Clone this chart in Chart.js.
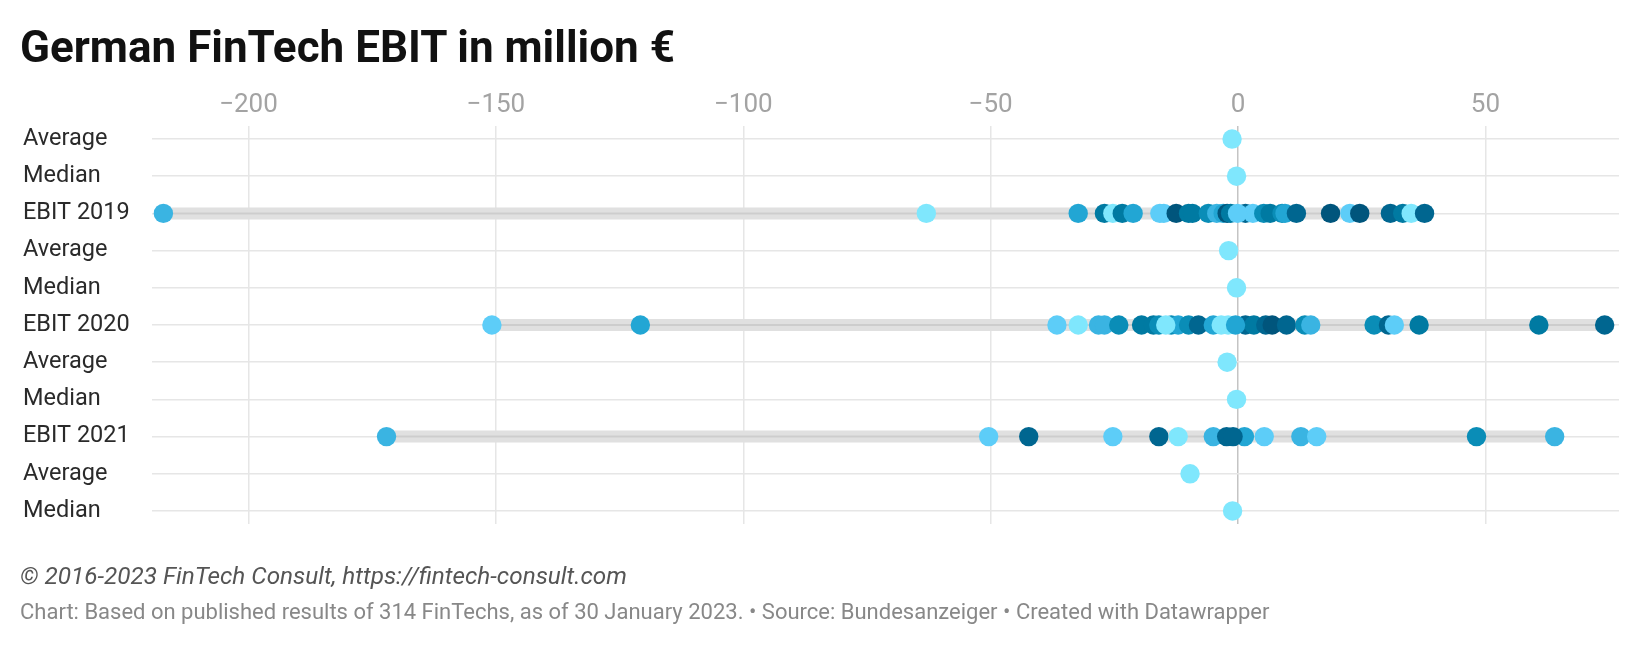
<!DOCTYPE html>
<html>
<head>
<meta charset="utf-8">
<script src="https://cdn.jsdelivr.net/npm/chart.js@4/dist/chart.umd.min.js"></script>
<style>
  body { margin: 0; background: #fff; font-family: Roboto, sans-serif; }
  #wrap { position: relative; width: 1640px; height: 648px; overflow: hidden; }
  #chart { position: absolute; left: 0; top: 0; }
  .txt { position: absolute; left: 20px; white-space: nowrap; }
  #title { top: 23px; font-size: 44px; line-height: 48px; font-weight: 700; color: #111; }
  #copy { top: 562px; font-size: 24.3px; line-height: 28px; font-style: italic; color: #555; }
  #notes { top: 598px; font-size: 22px; line-height: 28px; color: #888; }
</style>
</head>
<body>
<div id="wrap">
  <canvas id="chart" width="1640" height="648"></canvas>
  <div class="txt" id="title">German FinTech EBIT in million €</div>
  <div class="txt" id="copy">© 2016-2023 FinTech Consult, https://fintech-consult.com</div>
  <div class="txt" id="notes">Chart: Based on published results of 314 FinTechs, as of 30 January 2023. • Source: Bundesanzeiger • Created with Datawrapper</div>
</div>
<script>
// rows top to bottom
const rowLabels = ["Average", "Median", "EBIT 2019", "Average", "Median", "EBIT 2020", "Average", "Median", "EBIT 2021", "Average", "Median"];
const xTicks = [-200, -150, -100, -50, 0, 50];

// average / median rows (row index -> value)
const statRows = [0, 1, 3, 4, 6, 7, 9, 10];
const statValues = [-1.2, -0.3, -1.9, -0.3, -2.2, -0.3, -9.7, -1.1];

// single FinTech EBIT values, million €
const ebit2019 = [-217.2, -63.0, -32.3, -27.0, -25.3, -23.4, -21.2, -15.8, -15.0, -12.5, -10.0, -9.2, -6.0, -4.3, -3.0, -2.2, -1.5, 1.5, 3.0, 5.2, 6.5, 8.9, 9.5, 11.8, 18.7, 22.6, 24.6, 30.8, 33.3, 35.0, 37.7, -0.1];
const ebit2020 = [-150.8, -120.8, -36.6, -32.3, -28.2, -27.0, -24.1, -19.5, -17.1, -16.0, -13.5, -12.1, -14.6, -10.0, -8.0, -5.0, -3.4, -2.0, 1.5, 3.2, 5.6, 6.9, 9.8, -0.5, 13.5, 14.7, 27.5, 30.4, 31.6, 36.6, 60.8, 74.1];
const ebit2021 = [-172.1, -50.4, -42.3, -25.3, -16.0, -12.1, -5.0, 1.3, -2.3, -1.0, 5.3, 12.7, 15.9, 48.2, 64.0];

// shade index of each dot (0 = lightest cyan ... 7 = darkest blue)
const shades2019 = [2, 0, 3, 5, 0, 5, 3, 1, 1, 7, 5, 5, 4, 2, 3, 7, 5, 6, 1, 4, 5, 4, 3, 6, 7, 1, 7, 6, 5, 0, 6, 1];
const shades2020 = [1, 3, 1, 0, 2, 2, 4, 5, 5, 4, 4, 3, 0, 4, 6, 3, 0, 0, 6, 5, 6, 7, 6, 3, 4, 2, 4, 6, 1, 5, 5, 6];
const shades2021 = [2, 1, 6, 1, 6, 0, 2, 3, 6, 6, 1, 2, 1, 4, 2];

const palette = ["#7fe7fd", "#5dcdf8", "#3ab4e2", "#22a6d4", "#0a8db7", "#007aa2", "#006690", "#00557c"];

function dots(values, row) {
    return values.map(v => ({ x: v, y: row }));
}

function rangeLine(values, row) {
    return [{ x: Math.min(...values), y: row }, { x: Math.max(...values), y: row }];
}

const ebitRows = [
    { row: 2, values: ebit2019, shades: shades2019 },
    { row: 5, values: ebit2020, shades: shades2020 },
    { row: 8, values: ebit2021, shades: shades2021 }
];

const datasets = [];
ebitRows.forEach(r => {
    datasets.push({
        type: "line",
        data: rangeLine(r.values, r.row),
        borderColor: "#e0e0e0",
        borderWidth: 12,
        pointRadius: 0,
        order: 20
    });
    datasets.push({
        type: "line",
        data: rangeLine(r.values, r.row),
        borderColor: "#cdcdcd",
        borderWidth: 2,
        pointRadius: 0,
        order: 15
    });
    datasets.push({
        data: dots(r.values, r.row),
        pointBackgroundColor: r.shades.map(s => palette[s]),
        pointBorderWidth: 0,
        pointRadius: 9.7,
        order: 1
    });
});
datasets.push({
    data: statValues.map((v, i) => ({ x: v, y: statRows[i] })),
    pointBackgroundColor: palette[0],
    pointBorderWidth: 0,
    pointRadius: 9.7,
    order: 1
});

const ctx = document.getElementById("chart").getContext("2d");
new Chart(ctx, {
    type: "scatter",
    data: { datasets: datasets },
    options: {
        responsive: false,
        animation: false,
        events: [],
        layout: { padding: { left: 23, right: 21, top: 88, bottom: 124 } },
        plugins: { legend: { display: false }, tooltip: { enabled: false } },
        scales: {
            x: {
                type: "linear",
                position: "top",
                min: -219.5,
                max: 77,
                afterBuildTicks: scale => {
                    scale.ticks = xTicks.map(v => ({ value: v }));
                },
                afterFit: scale => { scale.height = 38; },
                ticks: {
                    includeBounds: false,
                    padding: 5,
                    color: "#a3a3a3",
                    font: { family: "Roboto", size: 26 },
                    callback: v => v < 0 ? "\u2212" + Math.abs(v) : String(v)
                },
                grid: {
                    drawTicks: false,
                    lineWidth: 1.5,
                    color: c => c.tick && c.tick.value === 0 ? "#c4c4c4" : "#e6e6e6"
                },
                border: { display: false }
            },
            y: {
                type: "linear",
                reverse: true,
                min: -0.35,
                max: 10.35,
                afterBuildTicks: scale => {
                    scale.ticks = rowLabels.map((l, i) => ({ value: i }));
                },
                afterFit: scale => { scale.width = 129; },
                ticks: {
                    crossAlign: "far",
                    color: "#2a2a2a",
                    font: { family: "Roboto", size: 23.5 },
                    callback: v => rowLabels[v]
                },
                grid: {
                    drawTicks: false,
                    lineWidth: 1.5,
                    color: "#e6e6e6"
                },
                border: { display: false }
            }
        }
    }
});
</script>
</body>
</html>
